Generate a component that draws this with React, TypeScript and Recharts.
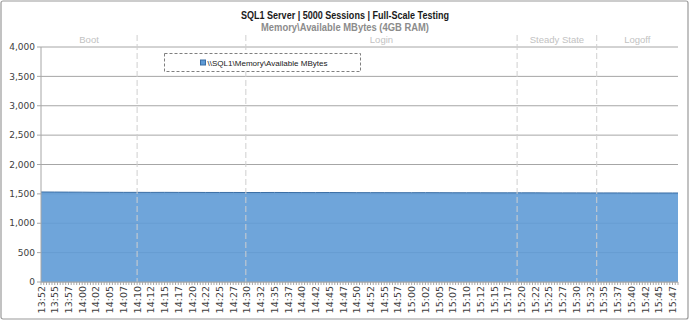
import {
  AreaChart,
  Area,
  XAxis,
  YAxis,
  CartesianGrid,
  ReferenceLine,
  ReferenceArea,
} from "recharts";

// time axis is in minutes after midnight; counters sampled every 2.5 min
const START_MIN = 832.5; // 13:52:30
const END_MIN = 948.5;
const STEP_MIN = 2.5;

const tickLabels = [
  "13:52", "13:55", "13:57", "14:00", "14:02", "14:05", "14:07", "14:10",
  "14:12", "14:15", "14:17", "14:20", "14:22", "14:25", "14:27", "14:30",
  "14:32", "14:35", "14:37", "14:40", "14:42", "14:45", "14:47", "14:50",
  "14:52", "14:55", "14:57", "15:00", "15:02", "15:05", "15:07", "15:10",
  "15:12", "15:15", "15:17", "15:20", "15:22", "15:25", "15:27", "15:30",
  "15:32", "15:35", "15:37", "15:40", "15:42", "15:45", "15:47",
];

const availableMBytes = [
  1532, 1531, 1530, 1529, 1527, 1527, 1526, 1526, 1525, 1526, 1525, 1525,
  1524, 1524, 1524, 1523, 1523, 1524, 1523, 1522, 1522, 1523, 1522, 1521,
  1521, 1521, 1520, 1520, 1521, 1520, 1519, 1519, 1519, 1518, 1518, 1518,
  1518, 1517, 1517, 1517, 1516, 1516, 1516, 1515, 1515, 1515, 1515, 1515,
];

const yTicks = [0, 500, 1000, 1500, 2000, 2500, 3000, 3500, 4000];

// test phases (start/end in minutes); blank name = unlabeled segment
const phaseNames = ["Boot", "", "Login", "Steady State", "Logoff"];
const phaseStarts = [832.5, 850, 869.8, 919.2, 933.7];
const phaseEnds = [850, 869.8, 919.2, 933.7, 948.5];

const data = availableMBytes.map((mb, i) => ({ t: START_MIN + i * STEP_MIN, mb }));

// minor tick every 30 seconds, a label every 2.5 minutes
const xTicks: number[] = [];
for (let t = START_MIN; t <= END_MIN + 0.001; t += 0.5) xTicks.push(t);

const AREA_FILL = "#5F9BD6";
const AREA_LINE = "#3A6EA5";
const GRID = "#A6A6A6";
const AXIS_TEXT = "#404040";

const PLOT_BOTTOM = 282;

function TimeTick({ x, payload }: any) {
  const idx = (payload.value - START_MIN) / STEP_MIN;
  const labelIdx = Math.round(idx);
  const isLabel = Math.abs(idx - labelIdx) < 0.01 && tickLabels[labelIdx];
  const ty = PLOT_BOTTOM + 4;
  return (
    <g>
      <line x1={x} y1={PLOT_BOTTOM} x2={x} y2={PLOT_BOTTOM + 3} stroke={GRID} strokeWidth={1} />
      {isLabel && (
        <text
          x={x}
          y={ty}
          transform={`rotate(-90 ${x} ${ty})`}
          textAnchor="end"
          dominantBaseline="central"
          fontFamily="DejaVu Sans"
          fontSize={9.5}
          fill={AXIS_TEXT}
        >
          {tickLabels[labelIdx]}
        </text>
      )}
    </g>
  );
}

// dashed phase divider, drawn a little above the plot area
function PhaseDivider(props: any) {
  const { x1, y1, y2 } = props;
  const top = Math.min(y1, y2) - 12;
  const bottom = Math.max(y1, y2);
  return (
    <line
      x1={x1}
      y1={top}
      x2={x1}
      y2={bottom}
      stroke="#CFCFCF"
      strokeWidth={1}
      strokeDasharray="6 3"
    />
  );
}

export default function App() {
  return (
    <div style={{ position: "relative", width: 690, height: 321, background: "#fff" }}>
      <style>{"body{margin:0}"}</style>
      <AreaChart
        width={690}
        height={321}
        data={data}
        margin={{ top: 47, right: 12, left: 0, bottom: 0 }}
      >
        <CartesianGrid horizontal vertical={false} stroke={GRID} />
        <XAxis
          dataKey="t"
          type="number"
          domain={[START_MIN, END_MIN]}
          allowDataOverflow
          ticks={xTicks}
          interval={0}
          tick={<TimeTick />}
          tickLine={false}
          axisLine={{ stroke: GRID }}
          height={39}
        />
        <YAxis
          domain={[0, 4000]}
          ticks={yTicks}
          width={41}
          tickSize={4}
          tickMargin={2}
          tickLine={{ stroke: GRID }}
          axisLine={{ stroke: GRID }}
          tickFormatter={(v: number) => v.toLocaleString("en-US")}
          tick={{ fontSize: 9, fill: AXIS_TEXT, fontFamily: "DejaVu Sans" }}
        />
        <Area
          type="linear"
          dataKey="mb"
          stroke={AREA_LINE}
          strokeWidth={1}
          fill={AREA_FILL}
          fillOpacity={0.9}
          isAnimationActive={false}
          dot={false}
          activeDot={false}
        />
        {phaseStarts.slice(1).map((t) => (
          <ReferenceLine key={t} x={t} shape={<PhaseDivider />} />
        ))}
        {phaseNames.map((name, i) =>
          name ? (
            <ReferenceArea
              key={name}
              x1={phaseStarts[i]}
              x2={phaseEnds[i]}
              fill="none"
              fillOpacity={0}
              stroke="none"
              label={{
                value: name,
                position: "top",
                offset: 4,
                fill: "#C2C2C2",
                fontSize: 9.5,
                fontFamily: "Liberation Sans",
              }}
            />
          ) : null
        )}
      </AreaChart>
      <svg
        width={690}
        height={321}
        style={{ position: "absolute", left: 0, top: 0, pointerEvents: "none" }}
      >
        <text
          x={345}
          y={19}
          textAnchor="middle"
          fontFamily="Liberation Sans"
          fontWeight="bold"
          fontSize={11}
          fill="#1A1A1A"
          textLength={208}
          lengthAdjust="spacingAndGlyphs"
        >
          SQL1 Server | 5000 Sessions | Full-Scale Testing
        </text>
        <text
          x={345}
          y={30.5}
          textAnchor="middle"
          fontFamily="Liberation Sans"
          fontWeight="bold"
          fontSize={10}
          fill="#8C8C8C"
          textLength={168}
          lengthAdjust="spacingAndGlyphs"
        >
          {"Memory\\Available MBytes (4GB RAM)"}
        </text>

        {/* series legend */}
        <g transform="translate(164.5 53.5)">
          <rect width={196} height={18} fill="#fff" stroke="#7F7F7F" strokeDasharray="3 2" />
          <rect x={36} y={6.5} width={5} height={5} fill={AREA_FILL} stroke={AREA_LINE} strokeWidth={1} />
          <text
            x={43}
            y={12}
            fontFamily="Liberation Sans"
            fontSize={8}
            fill="#202020"
            textLength={120}
            lengthAdjust="spacingAndGlyphs"
          >
            {"\\\\SQL1\\Memory\\Available MBytes"}
          </text>
        </g>

        <rect x={1} y={1} width={687} height={318} rx={2} fill="none" stroke="#9A9A9A" strokeWidth={1.2} />
      </svg>
    </div>
  );
}
